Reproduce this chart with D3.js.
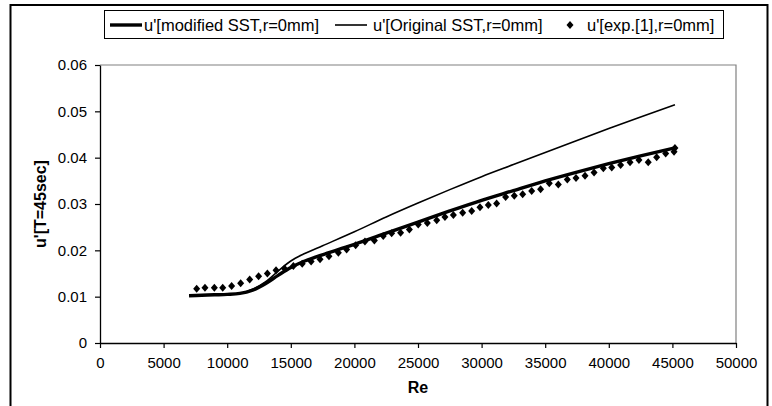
<!DOCTYPE html>
<html>
<head>
<meta charset="utf-8">
<script src="https://cdn.jsdelivr.net/npm/d3@7"></script>
<style>
  body { margin: 0; background: #fff; }
  svg { display: block; font-family: "Liberation Sans", Arial, sans-serif; }
</style>
</head>
<body>
<div id="chart"></div>
<script>
// modified SST (thick line)
const modRe = [7000, 8000, 9000, 10000, 11000, 12000, 13000, 14000, 15000, 16000, 17000, 18000, 19000, 20000,
  22500, 25000, 27500, 30000, 32500, 35000, 37500, 40000, 42500, 45200];
const modU = [0.0102, 0.0103, 0.0104, 0.0105, 0.0107, 0.0114, 0.0128, 0.0146, 0.0163, 0.0176, 0.0186, 0.0195, 0.0204, 0.0213,
  0.0237, 0.0261, 0.0285, 0.0308, 0.0329, 0.0350, 0.0369, 0.0387, 0.0404, 0.0421];

// original SST (thin line)
const origRe = [7000, 9000, 11000, 12000, 13000, 14000, 15000, 16000, 17500, 20000, 22500, 25000, 27500, 30000,
  32500, 35000, 37500, 40000, 42500, 45200];
const origU = [0.0102, 0.0104, 0.0107, 0.0116, 0.0132, 0.0155, 0.0177, 0.0192, 0.0210, 0.0240, 0.0272, 0.0302, 0.0331, 0.0359,
  0.0385, 0.0411, 0.0437, 0.0463, 0.0488, 0.0514];

// experiment [1] (diamonds)
const expRe = [7600, 8250, 8990, 9650, 10350, 11060, 11770, 12470, 13160, 13840, 14500, 15200, 15900, 16600, 17300, 18000,
  18740, 19390, 20100, 20830, 21570, 22270, 22930, 23630, 24320, 25020, 25730, 26470, 27120, 27780, 28510, 29220,
  29870, 30530, 31180, 31890, 32570, 33230, 33940, 34640, 35320, 36030, 36740, 37420, 38130, 38840, 39570, 40230,
  40930, 41670, 42370, 43100, 43760, 44470, 45130, 45200];
const expU = [0.0117, 0.0119, 0.0119, 0.0119, 0.0123, 0.0129, 0.0137, 0.0144, 0.0150, 0.0157, 0.0161, 0.0166, 0.0171, 0.0176, 0.0181, 0.0187,
  0.0195, 0.0202, 0.0211, 0.0219, 0.0221, 0.0231, 0.0237, 0.0238, 0.0245, 0.0256, 0.0259, 0.0265, 0.0272, 0.0276, 0.0281, 0.0285,
  0.0293, 0.0298, 0.0301, 0.0315, 0.0318, 0.0321, 0.0328, 0.0332, 0.0345, 0.0342, 0.0353, 0.0356, 0.0361, 0.0368, 0.0377, 0.0379,
  0.0384, 0.0390, 0.0395, 0.0390, 0.0401, 0.0409, 0.0413, 0.0421];

const xTicks = [0, 5000, 10000, 15000, 20000, 25000, 30000, 35000, 40000, 45000, 50000];
const yTicks = [0, 0.01, 0.02, 0.03, 0.04, 0.05, 0.06];

const legendLabels = ["u'[modified SST,r=0mm]", "u'[Original SST,r=0mm]", "u'[exp.[1],r=0mm]"];

const W = 772, H = 406;
const margin = {top: 65, right: 36, bottom: 63, left: 100};
const width = W - margin.left - margin.right;
const height = H - margin.top - margin.bottom;

const svg = d3.select("#chart").append("svg")
  .attr("width", W)
  .attr("height", H);

// outer frame (bottom edge is off the picture)
svg.append("path")
  .attr("d", `M10.5,${H + 5}V5H767.5V${H + 5}`)
  .attr("fill", "none")
  .attr("stroke", "#000")
  .attr("stroke-width", 2);

const g = svg.append("g")
  .attr("transform", "translate(" + margin.left + "," + margin.top + ")");

const x = d3.scaleLinear().domain([0, 50000]).range([0, width]);
const y = d3.scaleLinear().domain([0, 0.06]).range([height, 0]);

// plot area border (top / right in grey)
g.append("path")
  .attr("d", `M0,0H${width}V${height}`)
  .attr("fill", "none")
  .attr("stroke", "#808080")
  .attr("stroke-width", 1.2);

// X axis
const xAxis = g.append("g")
  .attr("transform", "translate(0," + height + ")")
  .call(d3.axisBottom(x).tickValues(xTicks).tickSize(5).tickSizeOuter(0).tickFormat(d3.format("d")));
xAxis.selectAll("text")
  .attr("dy", null)
  .attr("y", 25)
  .style("font-size", "15px");

// Y axis
const yAxis = g.append("g")
  .call(d3.axisLeft(y).tickValues(yTicks).tickSize(5).tickSizeOuter(0).tickFormat(d => d === 0 ? "0" : d3.format(".2f")(d)));
yAxis.selectAll("text")
  .attr("x", -13)
  .style("font-size", "15px");

[xAxis, yAxis].forEach(a => {
  a.select(".domain").attr("stroke", "#000").attr("stroke-width", 1.3);
  a.selectAll(".tick line").attr("stroke", "#000").attr("stroke-width", 1.2);
  a.selectAll("text").attr("fill", "#000").style("font-family", "'Liberation Sans', Arial, sans-serif");
});

// Axis titles
g.append("text")
  .attr("x", width / 2)
  .attr("y", height + 50)
  .attr("text-anchor", "middle")
  .style("font-size", "16px")
  .style("font-weight", "bold")
  .text("Re");

g.append("text")
  .attr("transform", "translate(" + (-54) + "," + (height / 2) + ")rotate(-90)")
  .attr("text-anchor", "middle")
  .style("font-size", "16px")
  .style("font-weight", "bold")
  .text("u'[T=45sec]");

// Lines
const line = d3.line()
  .x(d => x(d[0]))
  .y(d => y(d[1]))
  .curve(d3.curveMonotoneX);

g.append("path")
  .datum(origRe.map((r, i) => [r, origU[i]]))
  .attr("fill", "none")
  .attr("stroke", "#000")
  .attr("stroke-width", 1.6)
  .attr("d", line);

g.append("path")
  .datum(modRe.map((r, i) => [r, modU[i]]))
  .attr("fill", "none")
  .attr("stroke", "#000")
  .attr("stroke-width", 3.4)
  .attr("d", line);

// Diamonds (Excel style rhombus)
const diamondPath = "M0,-4L3.5,0L0,4L-3.5,0Z";
g.selectAll(".exp")
  .data(expRe.map((r, i) => [r, expU[i]]))
  .enter()
  .append("path")
  .attr("class", "exp")
  .attr("transform", d => "translate(" + x(d[0]) + "," + y(d[1]) + ")")
  .attr("d", diamondPath)
  .attr("fill", "#000");

// Legend
const leg = svg.append("g").attr("transform", "translate(104,10)");
leg.append("rect")
  .attr("x", 0.5).attr("y", 0.5)
  .attr("width", 619).attr("height", 28)
  .attr("fill", "#fff")
  .attr("stroke", "#000")
  .attr("stroke-width", 1);

const legItems = [
  {label: legendLabels[0], kind: "line", sw: 3.4, x0: 6, tx: 40},
  {label: legendLabels[1], kind: "line", sw: 1.6, x0: 231, tx: 269},
  {label: legendLabels[2], kind: "dot", x0: 466, tx: 483}
];
legItems.forEach(it => {
  if (it.kind === "line") {
    leg.append("line")
      .attr("x1", it.x0).attr("x2", it.x0 + 32)
      .attr("y1", 15).attr("y2", 15)
      .attr("stroke", "#000")
      .attr("stroke-width", it.sw);
  } else {
    leg.append("path")
      .attr("transform", "translate(" + it.x0 + ",15)")
      .attr("d", diamondPath)
      .attr("fill", "#000");
  }
  leg.append("text")
    .attr("x", it.tx)
    .attr("y", 20.5)
    .style("font-size", "16.5px")
    .text(it.label);
});
</script>
</body>
</html>
